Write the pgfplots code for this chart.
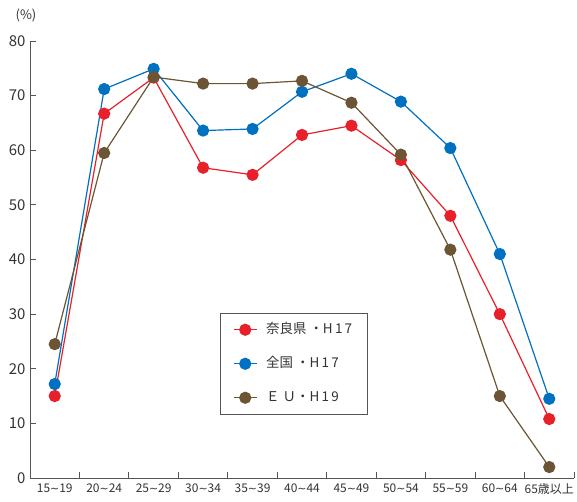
\documentclass[border=0pt]{standalone}
\usepackage{fontspec}
\setmainfont{Noto Sans CJK JP}
\newfontfamily\dv{DejaVu Sans}
\newcommand\wave{{\dv\fontsize{11}{13}\selectfont ∼}}
\usepackage{pgfplots}
\pgfplotsset{compat=1.18}

\definecolor{nara}{RGB}{232,32,42}
\definecolor{zenkoku}{RGB}{0,112,192}
\definecolor{eu}{RGB}{107,85,52}
\definecolor{axgray}{RGB}{85,85,85}

\begin{document}
\begin{tikzpicture}
\begin{axis}[
    name=ax,
    width=544bp, height=437bp,
    scale only axis,
    axis x line=bottom, axis y line=left,
    axis line style={-, draw=axgray, line width=0.9bp},
    xmin=-0.5, xmax=10.5,
    ymin=0, ymax=80,
    ytick={0,10,...,80},
    xtick={0,...,10},
    xticklabels={15\wave19,20\wave24,25\wave29,30\wave34,35\wave39,40\wave44,45\wave49,50\wave54,55\wave59,60\wave64,65歳以上},
    minor xtick={-0.5,0.5,...,10.5},
    tick align=inside,
    major x tick style={draw=none},
    minor tick length=6bp,
    major tick length=6bp,
    tick style={draw=axgray, line width=0.9bp},
    /pgf/number format/assume math mode=true,
    yticklabel style={font=\fontsize{15}{17}\selectfont, text=black!80, xshift=-1bp},
    xticklabel style={font=\fontsize{12}{14}\selectfont, text=black!80, yshift=-2bp},
    legend style={at={(rel axis cs:0.349,0.378)}, anchor=north west,
        draw=axgray, line width=0.9bp, font=\fontsize{13.5}{15}\selectfont,
        row sep=17bp, inner xsep=13bp, inner ysep=8bp, text=black!80,
        nodes={inner sep=2bp, text height=10bp, text depth=3bp},
        /tikz/every odd column/.append style={column sep=7bp}},
    legend cell align=left,
    legend image code/.code={\draw[mark repeat=2,mark phase=2,#1] plot coordinates {(0cm,0cm) (0.4cm,0cm) (0.8cm,0cm)};},
    every axis plot/.append style={line width=1.2bp, mark=*, mark size=5.5bp},
    clip=false,
]
\addplot[color=nara, mark options={fill=nara, draw=nara}] coordinates {
(0,15.0) (1,66.7) (2,73.3) (3,56.8) (4,55.5) (5,62.8) (6,64.5) (7,58.2) (8,48.0) (9,30.0) (10,10.8)};
\addplot[color=zenkoku, mark options={fill=zenkoku, draw=zenkoku}] coordinates {
(0,17.2) (1,71.2) (2,74.9) (3,63.6) (4,63.9) (5,70.7) (6,74.0) (7,68.9) (8,60.4) (9,41.0) (10,14.5)};
\addplot[color=eu, mark options={fill=eu, draw=eu}] coordinates {
(0,24.5) (1,59.5) (2,73.4) (3,72.2) (4,72.2) (5,72.7) (6,68.7) (7,59.2) (8,41.8) (9,15.0) (10,2.0)};
\legend{奈良県 ・H\,1\,7\hspace{12bp},全国 ・H\,1\,7,Ｅ Ｕ・H\,1\,9}
\node[font=\fontsize{13}{15}\selectfont, text=black!80] at (rel axis cs:0,1) [xshift=-4bp, yshift=26bp] {(\%)};
\end{axis}
\pgfresetboundingbox
\path ([xshift=-30bp,yshift=-24bp]ax.south west) rectangle ([xshift=3bp,yshift=41bp]ax.north east);
\end{tikzpicture}
\end{document}
